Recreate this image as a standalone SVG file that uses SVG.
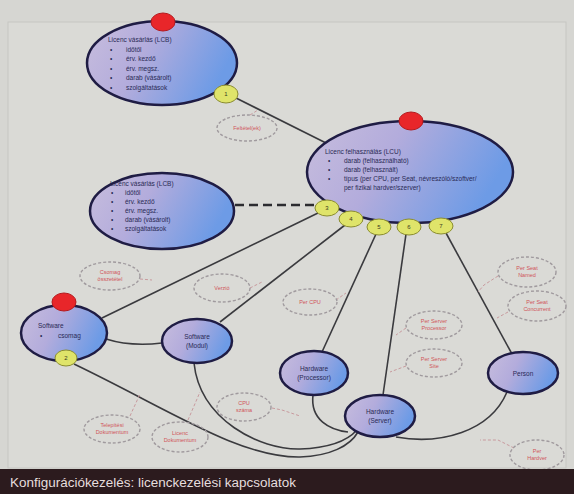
<svg xmlns="http://www.w3.org/2000/svg" width="574" height="494" viewBox="0 0 574 494">
<defs>
<linearGradient id="nodeFill" x1="0" y1="0" x2="1" y2="0.3">
<stop offset="0" stop-color="#c7bddd"/>
<stop offset="0.45" stop-color="#b3acdc"/>
<stop offset="1" stop-color="#6d9be6"/>
</linearGradient>
<style>
.node{fill:url(#nodeFill);stroke:#1f1c44;stroke-width:2.5}
.red{fill:#e8262a;stroke:#b41a1e;stroke-width:1}
.yel{fill:#dfe46a;stroke:#8a8c30;stroke-width:1}
.num{font-family:"Liberation Sans",sans-serif;font-size:6px;fill:#3a3a20;text-anchor:middle}
.t{font-family:"Liberation Sans",sans-serif;font-size:6.5px;fill:#2a2a55}
.tc{font-family:"Liberation Sans",sans-serif;font-size:6.5px;fill:#2a2a55;text-anchor:middle}
.lab{fill:none;stroke:#a09a9e;stroke-width:1.4;stroke-dasharray:3 2}
.lt{font-family:"Liberation Sans",sans-serif;font-size:5.5px;fill:#d0555a;text-anchor:middle}
.ln{fill:none;stroke:#3a3a3e;stroke-width:1.6}
.dl{fill:none;stroke:#c89a9e;stroke-width:1;stroke-dasharray:3 2}
</style>
</defs>
<rect x="0" y="0" width="574" height="494" fill="#d6d6d2"/>
<rect x="8" y="22" width="558" height="446" fill="#dadad6" stroke="#c6c6c2" stroke-width="1"/>

<g id="connectors">
<line class="ln" x1="236" y1="98" x2="328" y2="144"/>
<line x1="235" y1="205" x2="320" y2="205" stroke="#2c2c30" stroke-width="2.5" stroke-dasharray="9 5"/>
<line class="ln" x1="318" y1="213" x2="102" y2="318"/>
<line class="ln" x1="345" y1="225" x2="220" y2="322"/>
<line class="ln" x1="376" y1="234" x2="322" y2="352"/>
<line class="ln" x1="406" y1="234" x2="383" y2="395"/>
<line class="ln" x1="446" y1="233" x2="512" y2="354"/>
<path class="ln" d="M106,339 C125,345 145,345 162,343"/>
<path class="ln" d="M74,364 C170,410 240,458 300,457 C330,456 350,446 358,432"/>
<path class="ln" d="M194,363 C200,420 260,450 300,449 C330,448 348,440 357,430"/>
<path class="ln" d="M313,395 C310,420 330,430 348,432"/>
<path class="ln" d="M396,437 C440,445 490,432 507,392"/>
<path class="dl" d="M250,115 L258,110"/>
<path class="dl" d="M140,279 L152,280"/>
<path class="dl" d="M250,288 L262,282"/>
<path class="dl" d="M336,300 L346,293"/>
<path class="dl" d="M498,276 L484,285 L478,292"/>
<path class="dl" d="M508,312 L497,318"/>
<path class="dl" d="M406,328 L396,335"/>
<path class="dl" d="M406,366 L390,372"/>
<path class="dl" d="M130,416 L140,394"/>
<path class="dl" d="M188,420 L200,392"/>
<path class="dl" d="M272,408 L282,410 L300,416"/>
<path class="dl" d="M514,448 L498,440 L480,440"/>
</g>

<g id="lcb1">
<ellipse class="node" cx="162" cy="63" rx="75" ry="42"/>
<ellipse class="red" cx="163" cy="22" rx="12" ry="9"/>
<text class="t" x="108" y="42">Licenc vásárlás (LCB)</text>
<text class="t" x="110" y="52">•</text><text class="t" x="126" y="52">időtől</text>
<text class="t" x="110" y="61">•</text><text class="t" x="126" y="61">érv. kezdő</text>
<text class="t" x="110" y="71">•</text><text class="t" x="126" y="71">érv. megsz.</text>
<text class="t" x="110" y="80">•</text><text class="t" x="126" y="80">darab (vásárolt)</text>
<text class="t" x="110" y="90">•</text><text class="t" x="126" y="90">szolgáltatások</text>
<ellipse class="yel" cx="226" cy="94" rx="12" ry="9"/>
<text class="num" x="226" y="96">1</text>
</g>

<g id="lcb2">
<ellipse class="node" cx="162" cy="211" rx="72" ry="38"/>
<text class="t" x="110" y="186">Licenc vásárlás (LCB)</text>
<text class="t" x="111" y="195">•</text><text class="t" x="125" y="195">időtől</text>
<text class="t" x="111" y="204">•</text><text class="t" x="125" y="204">érv. kezdő</text>
<text class="t" x="111" y="213">•</text><text class="t" x="125" y="213">érv. megsz.</text>
<text class="t" x="111" y="222">•</text><text class="t" x="125" y="222">darab (vásárolt)</text>
<text class="t" x="111" y="231">•</text><text class="t" x="125" y="231">szolgáltatások</text>
</g>

<g id="lcu">
<ellipse class="node" cx="410" cy="172" rx="103" ry="51"/>
<ellipse class="red" cx="411" cy="121" rx="12" ry="9"/>
<text class="t" x="325" y="154">Licenc felhasználás (LCU)</text>
<text class="t" x="328" y="163">•</text><text class="t" x="344" y="163">darab (felhasználható)</text>
<text class="t" x="328" y="172">•</text><text class="t" x="344" y="172">darab (felhasznált)</text>
<text class="t" x="328" y="181">•</text><text class="t" x="344" y="181">típus (per CPU, per Seat, névreszóló/szoftver/</text>
<text class="t" x="344" y="190">per fizikai hardver/szerver)</text>
<ellipse class="yel" cx="327" cy="208" rx="12" ry="8"/><text class="num" x="327" y="210">3</text>
<ellipse class="yel" cx="351" cy="219" rx="12" ry="8"/><text class="num" x="351" y="221">4</text>
<ellipse class="yel" cx="379" cy="227" rx="12" ry="8"/><text class="num" x="379" y="229">5</text>
<ellipse class="yel" cx="409" cy="227" rx="12" ry="8"/><text class="num" x="409" y="229">6</text>
<ellipse class="yel" cx="441" cy="226" rx="12" ry="8"/><text class="num" x="441" y="228">7</text>
</g>

<g id="sw-csomag">
<ellipse class="node" cx="64" cy="333" rx="43" ry="28"/>
<ellipse class="red" cx="64" cy="302" rx="12" ry="9"/>
<text class="t" x="38" y="328">Software</text>
<text class="t" x="40" y="338">•</text><text class="t" x="58" y="338">csomag</text>
<ellipse class="yel" cx="66" cy="358" rx="11" ry="8"/><text class="num" x="66" y="360">2</text>
</g>

<g id="sw-modul">
<ellipse class="node" cx="197" cy="341" rx="35" ry="22"/>
<text class="tc" x="197" y="339">Software</text>
<text class="tc" x="197" y="348">(Modul)</text>
</g>

<g id="hw-proc">
<ellipse class="node" cx="314" cy="373" rx="34" ry="22"/>
<text class="tc" x="314" y="371">Hardware</text>
<text class="tc" x="314" y="380">(Processor)</text>
</g>

<g id="hw-server">
<ellipse class="node" cx="380" cy="416" rx="35" ry="21"/>
<text class="tc" x="380" y="414">Hardware</text>
<text class="tc" x="380" y="423">(Server)</text>
</g>

<g id="person">
<ellipse class="node" cx="523" cy="373" rx="35" ry="21"/>
<text class="tc" x="523" y="376">Person</text>
</g>

<g id="labels">
<g id="l-feltetel"><ellipse class="lab" cx="247" cy="128" rx="30" ry="13"/><text class="lt" x="247" y="130">Feltétel(ek)</text></g>
<g id="l-csomag"><ellipse class="lab" cx="110" cy="276" rx="30" ry="14"/><text class="lt" x="110" y="274">Csomag</text><text class="lt" x="110" y="281">összetétel</text></g>
<g id="l-verzio"><ellipse class="lab" cx="222" cy="288" rx="28" ry="14"/><text class="lt" x="222" y="290">Verzió</text></g>
<g id="l-percpu"><ellipse class="lab" cx="310" cy="302" rx="27" ry="13"/><text class="lt" x="310" y="304">Per CPU</text></g>
<g id="l-named"><ellipse class="lab" cx="527" cy="272" rx="29" ry="15"/><text class="lt" x="527" y="270">Per Seat</text><text class="lt" x="527" y="277">Named</text></g>
<g id="l-conc"><ellipse class="lab" cx="537" cy="306" rx="29" ry="15"/><text class="lt" x="537" y="304">Per Seat</text><text class="lt" x="537" y="311">Concurrent</text></g>
<g id="l-srvproc"><ellipse class="lab" cx="434" cy="325" rx="28" ry="14"/><text class="lt" x="434" y="323">Per Server</text><text class="lt" x="434" y="330">Processor</text></g>
<g id="l-srvsite"><ellipse class="lab" cx="434" cy="363" rx="28" ry="14"/><text class="lt" x="434" y="361">Per Server</text><text class="lt" x="434" y="368">Site</text></g>
<g id="l-doc1"><ellipse class="lab" cx="112" cy="429" rx="28" ry="14"/><text class="lt" x="112" y="427">Telepítési</text><text class="lt" x="112" y="434">Dokumentum</text></g>
<g id="l-doc2"><ellipse class="lab" cx="180" cy="437" rx="28" ry="15"/><text class="lt" x="180" y="435">Licenc</text><text class="lt" x="180" y="442">Dokumentum</text></g>
<g id="l-cpu"><ellipse class="lab" cx="244" cy="407" rx="27" ry="14"/><text class="lt" x="244" y="405">CPU</text><text class="lt" x="244" y="412">száma</text></g>
<g id="l-hw"><ellipse class="lab" cx="537" cy="455" rx="27" ry="15"/><text class="lt" x="537" y="453">Per</text><text class="lt" x="537" y="460">Hardver</text></g>
</g>

<rect x="0" y="469" width="574" height="25" fill="#2c1b1e"/>
<text x="10" y="487" font-family="'Liberation Sans Narrow','Liberation Sans',sans-serif" font-size="12.5" fill="#e6dede" textLength="286" lengthAdjust="spacingAndGlyphs">Konfigurációkezelés: licenckezelési kapcsolatok</text>
</svg>
